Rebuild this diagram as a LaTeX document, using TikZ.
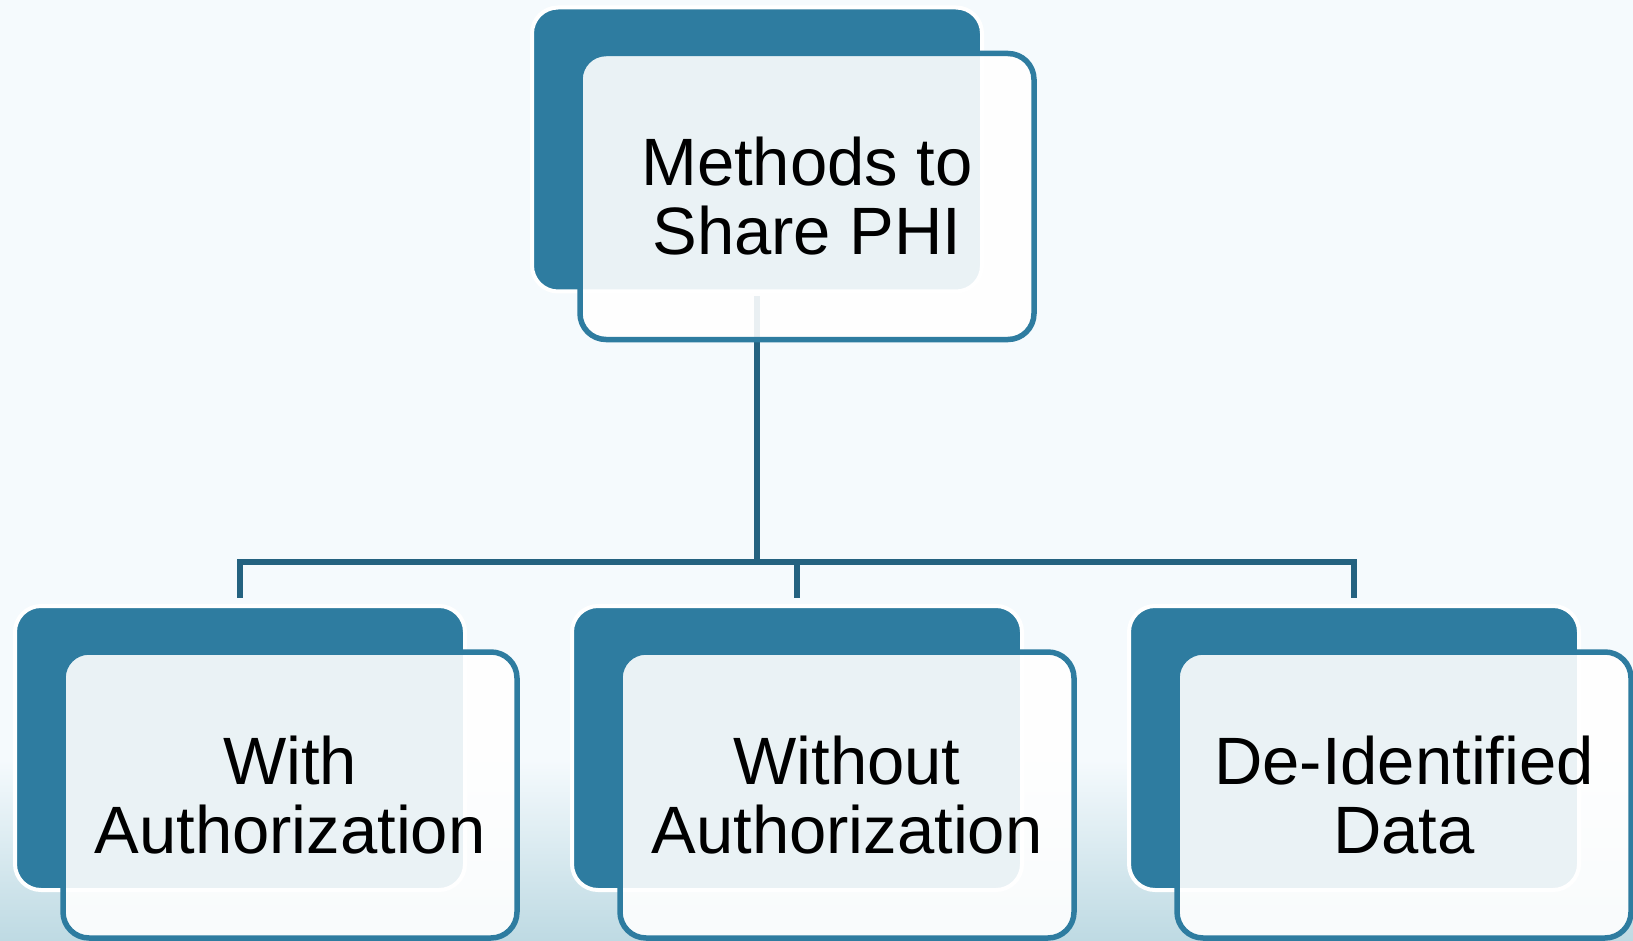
\documentclass[tikz,border=0pt]{standalone}
\usepackage{fontspec}
\setmainfont{Liberation Sans}
\usetikzlibrary{positioning}

\definecolor{phiteal}{RGB}{46,124,160}
\definecolor{philink}{RGB}{36,98,128}
\definecolor{phibg}{RGB}{245,250,253}
\definecolor{phibgdeep}{RGB}{190,218,227}

\begin{document}
\begin{tikzpicture}[x=0.5pt, y=-0.5pt,
			backbox/.style={rectangle, rounded corners=13pt, fill=phiteal, draw=white, line width=2pt, minimum width=225pt, minimum height=142pt, inner sep=0pt},
			frontbox/.style={rectangle, rounded corners=13pt, fill=white, fill opacity=0.9, text opacity=1, draw=phiteal, draw opacity=1, line width=2.75pt, minimum width=227pt, minimum height=143pt, inner sep=0pt, align=center, font=\fontsize{33.5}{34.5}\selectfont},
			link/.style={draw=philink, line width=3pt}
			]
			
			% page background, deeper towards the bottom
			\useasboundingbox[fill=phibg] (0,0) rectangle (1633,941);
			\shade[top color=phibg, bottom color=phibgdeep] (0,760) rectangle (1633,941);
			
			\node[backbox] at (757, 149.5) (share back) {};
			\node[backbox] at (240, 748) (with back) {};
			\node[backbox] at (797, 748) (without back) {};
			\node[backbox] at (1354, 748) (deid back) {};
			
			\coordinate (bus) at (757, 562);
			\draw[link, shorten <=1.5pt] (share back.south) -- (bus);
			\draw[link, shorten >=3pt] (bus) -| (with back.north);
			\draw[link, shorten >=3pt] (bus) -| (without back.north);
			\draw[link, shorten >=3pt] (bus) -| (deid back.north);
			
			\node[frontbox] at ([shift={(50,47)}]share back.center) (share) {Methods to\\Share PHI};
			\node[frontbox] at ([shift={(50,47)}]with back.center) (with) {With\\Authorization};
			\node[frontbox] at ([shift={(50,47)}]without back.center) (without) {Without\\Authorization};
			\node[frontbox] at ([shift={(50,47)}]deid back.center) (deid) {De-Identified\\Data};
		\end{tikzpicture}
\end{document}
